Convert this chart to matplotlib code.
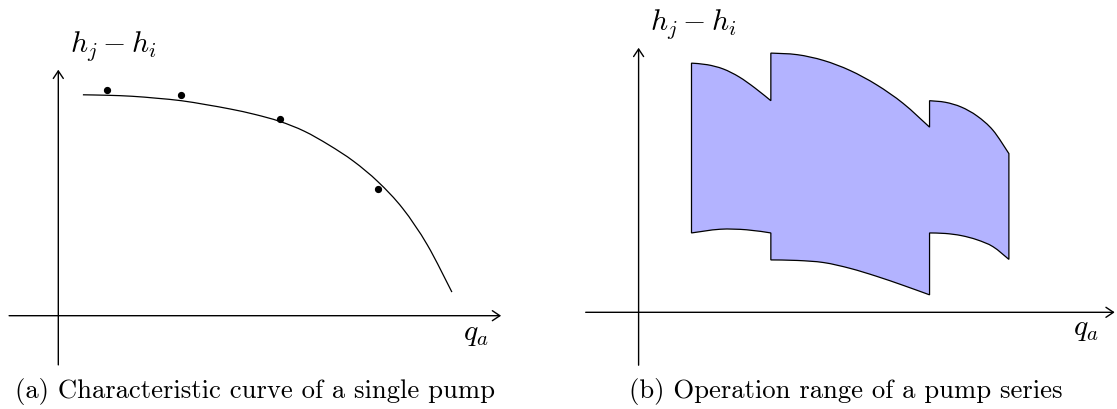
import matplotlib
matplotlib.use("Agg")
import matplotlib.pyplot as plt
from matplotlib.path import Path
from matplotlib.patches import PathPatch

plt.rcParams['mathtext.fontset'] = 'cm'
plt.rcParams['font.family'] = ['cmr10', 'DejaVu Serif']

W, H = 1117, 410

# (a) measured points and fitted characteristic curve
meas_q = [1.0, 2.5, 4.5, 6.5]
meas_h = [4.58, 4.49, 3.99, 2.58]
curve_q = [0.5, 1.0, 1.5, 2.0, 2.5, 3.0, 3.5, 4.0, 4.5, 5.0, 5.5, 6.0, 6.5, 7.0, 7.5, 8.0]
curve_h = [4.49, 4.48, 4.46, 4.42, 4.37, 4.29, 4.20, 4.09, 3.95, 3.75, 3.47, 3.14,
           2.72, 2.18, 1.44, 0.48]

# (b) operation range: upper and lower boundary of each pump stage
top_q = [[1.0, 1.3, 1.6, 1.9, 2.2, 2.5],
         [2.5, 3.0, 3.5, 4.0, 4.5, 5.0, 5.5],
         [5.5, 5.8, 6.1, 6.4, 6.7, 7.0]]
top_h = [[4.71, 4.68, 4.60, 4.45, 4.24, 4.0],
         [4.90, 4.87, 4.76, 4.57, 4.30, 3.95, 3.50],
         [4.0, 3.97, 3.88, 3.71, 3.44, 3.0]]
bot_q = [[1.0, 1.54, 2.04, 2.5],
         [2.5, 3.0, 3.5, 4.0, 4.5, 5.0, 5.5],
         [5.5, 5.8, 6.1, 6.4, 6.7, 7.0]]
bot_h = [[1.5, 1.57, 1.56, 1.5],
         [0.99, 0.98, 0.94, 0.83, 0.68, 0.51, 0.33],
         [1.50, 1.49, 1.45, 1.37, 1.24, 1.0]]

fig = plt.figure(figsize=(W / 100, H / 100), dpi=100)


def smooth(pts):
    """Catmull-Rom through pts, returned as cubic bezier vertices (no MOVETO)."""
    verts = []
    n = len(pts)
    for i in range(n - 1):
        p0 = pts[max(i - 1, 0)]
        p1 = pts[i]
        p2 = pts[i + 1]
        p3 = pts[min(i + 2, n - 1)]
        c1 = (p1[0] + (p2[0] - p0[0]) / 6, p1[1] + (p2[1] - p0[1]) / 6)
        c2 = (p2[0] - (p3[0] - p1[0]) / 6, p2[1] - (p3[1] - p1[1]) / 6)
        verts += [c1, c2, p2]
    return verts


def make_axes(x0, x1, ox, oy, scale):
    # axes spanning pixel columns x0..x1, origin at pixel (ox, oy)
    ax = fig.add_axes([x0 / W, 0, (x1 - x0) / W, 1])
    ax.set_xlim((x0 - ox) / scale, (x1 - ox) / scale)
    ax.set_ylim((oy - H) / scale, oy / scale)
    ax.axis('off')
    arrow = dict(arrowstyle='->,head_length=0.45,head_width=0.3', lw=1.0,
                 color='black', shrinkA=0, shrinkB=0, mutation_scale=12)
    ax.annotate('', xy=(9, 0), xytext=(-1, 0), arrowprops=arrow)
    ax.annotate('', xy=(0, 5), xytext=(0, -1), arrowprops=arrow)
    return ax


def px(x, y):
    return x / W, 1 - y / H


# left panel
ax1 = make_axes(0, 558, 58.3, 316.7, 49.2)
pts = list(zip(curve_q, curve_h))
cv = smooth(pts)
ax1.add_patch(PathPatch(Path([pts[0]] + cv, [Path.MOVETO] + [Path.CURVE4] * len(cv)),
                        facecolor='none', edgecolor='black', lw=0.9))
ax1.plot(meas_q, meas_h, 'o', color='black', ms=4.2)

# right panel: walk the upper edges left to right, then the lower ones back
ax2 = make_axes(558, W, 638.6, 313.3, 52.9)
verts = [(top_q[0][0], top_h[0][0])]
codes = [Path.MOVETO]
for i in range(3):
    pts = list(zip(top_q[i], top_h[i]))
    if i > 0:
        verts.append(pts[0])
        codes.append(Path.LINETO)
    cv = smooth(pts)
    verts += cv
    codes += [Path.CURVE4] * len(cv)
for i in reversed(range(3)):
    pts = list(zip(bot_q[i][::-1], bot_h[i][::-1]))
    verts.append(pts[0])
    codes.append(Path.LINETO)
    cv = smooth(pts)
    verts += cv
    codes += [Path.CURVE4] * len(cv)
verts.append(verts[0])
codes.append(Path.CLOSEPOLY)
ax2.add_patch(PathPatch(Path(verts, codes), facecolor='#b3b3ff',
                        edgecolor='black', lw=0.9, joinstyle='miter'))

# axis labels
for x, y in [(70, 52), (650, 30)]:
    fig.text(*px(x, y), r'$h_j - h_i$', fontsize=21.5, ha='left', va='baseline')
for x, y in [(463, 340), (1073, 335)]:
    fig.text(*px(x, y), r'$q_a$', fontsize=21.5, ha='left', va='baseline')

# sub-captions
fig.text(*px(255, 398), '(a) Characteristic curve of a single pump',
         fontsize=19.2, ha='center', va='baseline')
fig.text(*px(846, 398), '(b) Operation range of a pump series',
         fontsize=19.2, ha='center', va='baseline')

fig.savefig('out.png', dpi=100)
